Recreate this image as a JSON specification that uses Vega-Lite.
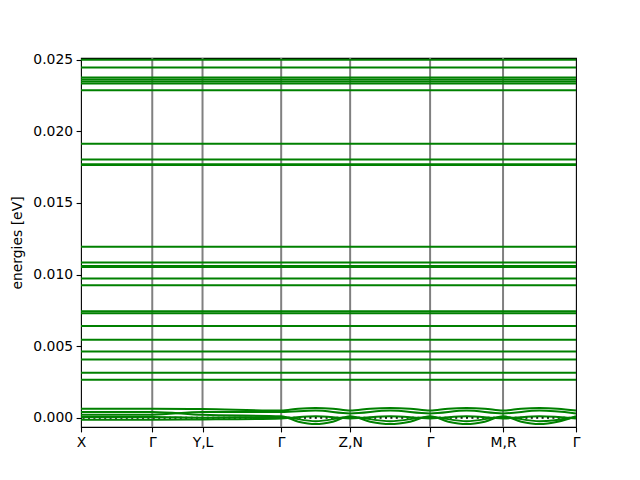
{
  "$schema": "https://vega.github.io/schema/vega-lite/v6.json",
  "width": 495,
  "height": 369,
  "autosize": "none",
  "padding": {"left": 81, "top": 58, "right": 64, "bottom": 53},
  "background": "white",
  "config": {
    "view": {"stroke": "black", "strokeWidth": 1.1},
    "font": "DejaVu Sans",
    "axis": {"grid": false, "domain": false, "tickColor": "black", "tickWidth": 1.1, "tickSize": 4.9, "labelPadding": 3.5, "labelFont": "DejaVu Sans", "labelFontSize": 13.9, "labelColor": "black", "titleFont": "DejaVu Sans", "titleFontSize": 13.9, "titleFontWeight": "normal", "titleColor": "black"}
  },
  "datasets": {
    "sym": [{"x": 71.3}, {"x": 121.6}, {"x": 200.3}, {"x": 269.3}, {"x": 349.3}, {"x": 422.3}],
    "zero": [{"e": 0}],
    "bands": [
      {"b": "f01", "x": 0, "e": 0.025}, {"b": "f01", "x": 495.3, "e": 0.025},
      {"b": "f02", "x": 0, "e": 0.02446}, {"b": "f02", "x": 495.3, "e": 0.02446},
      {"b": "f03", "x": 0, "e": 0.02376}, {"b": "f03", "x": 495.3, "e": 0.02376},
      {"b": "f04", "x": 0, "e": 0.02362}, {"b": "f04", "x": 495.3, "e": 0.02362},
      {"b": "f05", "x": 0, "e": 0.02348}, {"b": "f05", "x": 495.3, "e": 0.02348},
      {"b": "f06", "x": 0, "e": 0.02334}, {"b": "f06", "x": 495.3, "e": 0.02334},
      {"b": "f07", "x": 0, "e": 0.02286}, {"b": "f07", "x": 495.3, "e": 0.02286},
      {"b": "f08", "x": 0, "e": 0.01913}, {"b": "f08", "x": 495.3, "e": 0.01913},
      {"b": "f09", "x": 0, "e": 0.01804}, {"b": "f09", "x": 495.3, "e": 0.01804},
      {"b": "f10", "x": 0, "e": 0.0177}, {"b": "f10", "x": 495.3, "e": 0.0177},
      {"b": "f11", "x": 0, "e": 0.01764}, {"b": "f11", "x": 495.3, "e": 0.01764},
      {"b": "f12", "x": 0, "e": 0.01194}, {"b": "f12", "x": 495.3, "e": 0.01194},
      {"b": "f13", "x": 0, "e": 0.01083}, {"b": "f13", "x": 495.3, "e": 0.01083},
      {"b": "f14", "x": 0, "e": 0.0106}, {"b": "f14", "x": 495.3, "e": 0.0106},
      {"b": "f15", "x": 0, "e": 0.01053}, {"b": "f15", "x": 495.3, "e": 0.01053},
      {"b": "f16", "x": 0, "e": 0.00972}, {"b": "f16", "x": 495.3, "e": 0.00972},
      {"b": "f17", "x": 0, "e": 0.00925}, {"b": "f17", "x": 495.3, "e": 0.00925},
      {"b": "f18", "x": 0, "e": 0.00744}, {"b": "f18", "x": 495.3, "e": 0.00744},
      {"b": "f19", "x": 0, "e": 0.0073}, {"b": "f19", "x": 495.3, "e": 0.0073},
      {"b": "f20", "x": 0, "e": 0.0064}, {"b": "f20", "x": 495.3, "e": 0.0064},
      {"b": "f21", "x": 0, "e": 0.00545}, {"b": "f21", "x": 495.3, "e": 0.00545},
      {"b": "f22", "x": 0, "e": 0.00463}, {"b": "f22", "x": 495.3, "e": 0.00463},
      {"b": "f23", "x": 0, "e": 0.00407}, {"b": "f23", "x": 495.3, "e": 0.00407},
      {"b": "f24", "x": 0, "e": 0.00313}, {"b": "f24", "x": 495.3, "e": 0.00313},
      {"b": "f25", "x": 0, "e": 0.00265}, {"b": "f25", "x": 495.3, "e": 0.00265},
      {"b": "L1", "x": 0, "e": 0.00063}, {"b": "L1", "x": 71.3, "e": 0.00063}, {"b": "L1", "x": 121.6, "e": 0.0006}, {"b": "L1", "x": 200.3, "e": 0.0005}, {"b": "L1", "x": 217.5, "e": 0.00063}, {"b": "L1", "x": 234.8, "e": 0.00068}, {"b": "L1", "x": 252, "e": 0.00063}, {"b": "L1", "x": 269.3, "e": 0.0005}, {"b": "L1", "x": 289.3, "e": 0.00063}, {"b": "L1", "x": 309.3, "e": 0.00068}, {"b": "L1", "x": 329.3, "e": 0.00063}, {"b": "L1", "x": 349.3, "e": 0.0005}, {"b": "L1", "x": 367.5, "e": 0.00063}, {"b": "L1", "x": 385.8, "e": 0.00068}, {"b": "L1", "x": 404, "e": 0.00063}, {"b": "L1", "x": 422.3, "e": 0.0005}, {"b": "L1", "x": 440.5, "e": 0.00063}, {"b": "L1", "x": 458.8, "e": 0.00068}, {"b": "L1", "x": 477, "e": 0.00063}, {"b": "L1", "x": 495.3, "e": 0.0005},
      {"b": "L2", "x": 0, "e": 0.0004}, {"b": "L2", "x": 71.3, "e": 0.0004}, {"b": "L2", "x": 121.6, "e": 0.0002}, {"b": "L2", "x": 200.3, "e": 0.0001}, {"b": "L2", "x": 217.5, "e": -0.00028}, {"b": "L2", "x": 234.8, "e": -0.00044}, {"b": "L2", "x": 252, "e": -0.00028}, {"b": "L2", "x": 269.3, "e": 0.0001}, {"b": "L2", "x": 289.3, "e": -0.00028}, {"b": "L2", "x": 309.3, "e": -0.00044}, {"b": "L2", "x": 329.3, "e": -0.00028}, {"b": "L2", "x": 349.3, "e": 0.0001}, {"b": "L2", "x": 367.5, "e": -0.00028}, {"b": "L2", "x": 385.8, "e": -0.00044}, {"b": "L2", "x": 404, "e": -0.00028}, {"b": "L2", "x": 422.3, "e": 0.0001}, {"b": "L2", "x": 440.5, "e": -0.00028}, {"b": "L2", "x": 458.8, "e": -0.00044}, {"b": "L2", "x": 477, "e": -0.00028}, {"b": "L2", "x": 495.3, "e": 0.0001},
      {"b": "L3", "x": 0, "e": 0.00021}, {"b": "L3", "x": 71.3, "e": 0.00021}, {"b": "L3", "x": 121.6, "e": 0.0004}, {"b": "L3", "x": 200.3, "e": 0.0004}, {"b": "L3", "x": 234.8, "e": 0.0005}, {"b": "L3", "x": 269.3, "e": 0.0003}, {"b": "L3", "x": 309.3, "e": 0.0005}, {"b": "L3", "x": 349.3, "e": 0.0003}, {"b": "L3", "x": 385.8, "e": 0.0005}, {"b": "L3", "x": 422.3, "e": 0.0003}, {"b": "L3", "x": 458.8, "e": 0.0005}, {"b": "L3", "x": 495.3, "e": 0.0003},
      {"b": "L4", "x": 0, "e": 0.00005}, {"b": "L4", "x": 71.3, "e": 0.00005}, {"b": "L4", "x": 121.6, "e": 0.0}, {"b": "L4", "x": 200.3, "e": 0.00005}, {"b": "L4", "x": 234.8, "e": -0.00025}, {"b": "L4", "x": 269.3, "e": 0.00005}, {"b": "L4", "x": 309.3, "e": -0.00025}, {"b": "L4", "x": 349.3, "e": 0.00005}, {"b": "L4", "x": 385.8, "e": -0.00025}, {"b": "L4", "x": 422.3, "e": 0.00005}, {"b": "L4", "x": 458.8, "e": -0.00025}, {"b": "L4", "x": 495.3, "e": 0.00005},
      {"b": "L5", "x": 0, "e": -0.00014}, {"b": "L5", "x": 71.3, "e": -0.00014}, {"b": "L5", "x": 121.6, "e": -0.00012}, {"b": "L5", "x": 200.3, "e": -0.00005}, {"b": "L5", "x": 234.8, "e": 0.0001}, {"b": "L5", "x": 269.3, "e": -0.00005}, {"b": "L5", "x": 309.3, "e": 0.0001}, {"b": "L5", "x": 349.3, "e": -0.00005}, {"b": "L5", "x": 385.8, "e": 0.0001}, {"b": "L5", "x": 422.3, "e": -0.00005}, {"b": "L5", "x": 458.8, "e": 0.0001}, {"b": "L5", "x": 495.3, "e": -0.00005}
    ]
  },
  "layer": [
    {
      "data": {"name": "sym"},
      "mark": {"type": "rule", "color": "#808080", "strokeWidth": 2},
      "encoding": {
        "x": {"field": "x", "type": "quantitative", "scale": {"domain": [0, 495.3], "nice": false, "zero": false},
              "axis": {"title": null, "values": [0, 71.3, 121.6, 200.3, 269.3, 349.3, 422.3, 495.3], "labelExpr": "datum.value < 1 ? 'X' : abs(datum.value - 121.6) < 1 ? 'Y,L' : abs(datum.value - 269.3) < 1 ? 'Z,N' : abs(datum.value - 422.3) < 1 ? 'M,R' : 'Γ'", "labelOverlap": false, "labelBound": false, "labelFlush": false}}
      }
    },
    {
      "data": {"name": "zero"},
      "mark": {"type": "rule", "color": "black", "strokeWidth": 2, "strokeDash": [2, 3.4]},
      "encoding": {
        "y": {"field": "e", "type": "quantitative", "scale": {"domain": [-0.00065, 0.02512], "nice": false, "zero": false},
              "axis": {"title": "energies [eV]", "values": [0, 0.005, 0.01, 0.015, 0.02, 0.025], "format": ".3f", "titlePadding": 8}}
      }
    },
    {
      "data": {"name": "bands"},
      "mark": {"type": "line", "color": "#008000", "strokeWidth": 2, "interpolate": "monotone"},
      "encoding": {
        "x": {"field": "x", "type": "quantitative", "scale": {"domain": [0, 495.3], "nice": false, "zero": false},
              "axis": {"title": null, "values": [0, 71.3, 121.6, 200.3, 269.3, 349.3, 422.3, 495.3], "labelExpr": "datum.value < 1 ? 'X' : abs(datum.value - 121.6) < 1 ? 'Y,L' : abs(datum.value - 269.3) < 1 ? 'Z,N' : abs(datum.value - 422.3) < 1 ? 'M,R' : 'Γ'", "labelOverlap": false, "labelBound": false, "labelFlush": false}},
        "y": {"field": "e", "type": "quantitative", "scale": {"domain": [-0.00065, 0.02512], "nice": false, "zero": false},
              "axis": {"title": "energies [eV]", "values": [0, 0.005, 0.01, 0.015, 0.02, 0.025], "format": ".3f", "titlePadding": 8}},
        "detail": {"field": "b", "type": "nominal"}
      }
    }
  ]
}
